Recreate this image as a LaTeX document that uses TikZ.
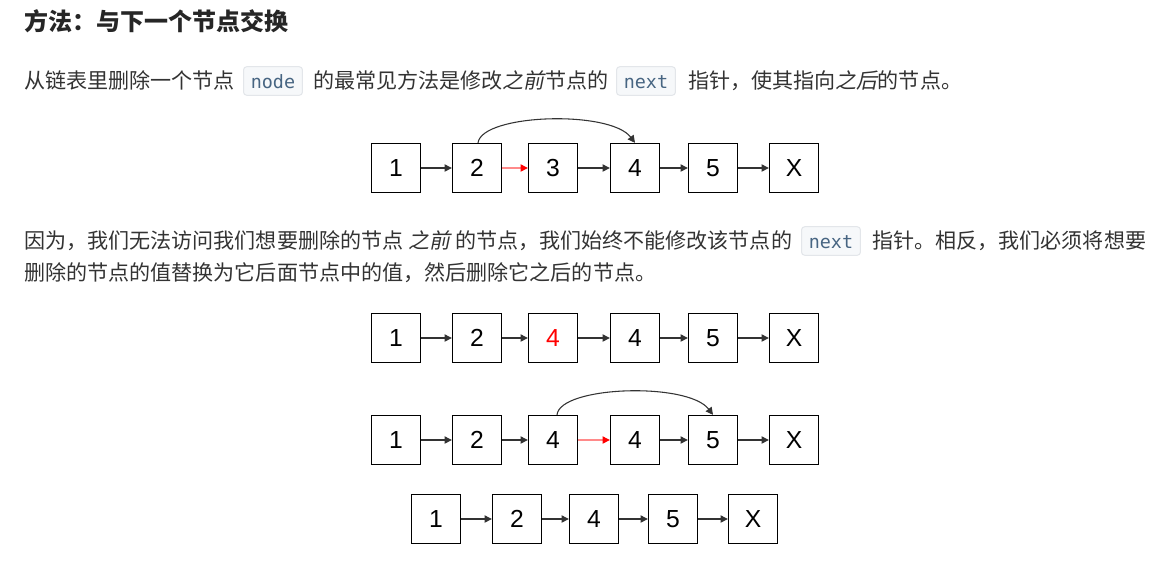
\documentclass[tikz,border=0pt]{standalone}
\usepackage{fontspec}
\setmainfont{Noto Sans CJK SC}
\newfontfamily\cjkfont{Noto Sans CJK SC}
\newfontfamily\cjkitfont[FakeSlant=0.2]{Noto Sans CJK SC}
\newfontfamily\numfont{Liberation Sans}
\newfontfamily\codefont{DejaVu Sans Mono}
\usetikzlibrary{arrows.meta}
\definecolor{txt}{HTML}{333333}
\definecolor{ttl}{HTML}{262626}
\definecolor{codebg}{HTML}{F6F8FA}
\definecolor{codeborder}{HTML}{E3E6EA}
\definecolor{codefg}{HTML}{476582}
\definecolor{linec}{HTML}{333333}
\definecolor{redline}{HTML}{FF8A8A}
\newcommand{\zhit}[1]{{\cjkitfont #1}}
\begin{document}
\begin{tikzpicture}[x=0.75pt,y=-0.75pt,
  titletext/.style={anchor=base west, inner sep=0pt, text=ttl, font=\cjkfont\bfseries\fontsize{18}{18}\selectfont},
  para/.style={anchor=base west, inner sep=0pt, text=txt, font=\cjkfont\fontsize{15.8}{15.8}\selectfont},
  codebox/.style={anchor=base west, fill=codebg, draw=codeborder, line width=0.75pt, rounded corners=2.5pt,
     text=codefg, font=\codefont\fontsize{13.8}{13.8}\selectfont, inner xsep=5.5pt, inner ysep=0pt,
     text height=16pt, text depth=5.5pt},
  lbox/.style={draw=black, line width=1pt, minimum width=36.75pt, minimum height=36.75pt, inner sep=0pt,
     font=\numfont\fontsize{18.5}{18.5}\selectfont, text=black},
  arr/.style={draw=linec, line width=0.8pt, -{Triangle[length=5.5pt,width=5.5pt]}},
  redarr/.style={draw=redline, line width=0.8pt, -{Triangle[length=5.5pt,width=5.5pt,color=red]}},
  curvearr/.style={draw=linec, line width=0.8pt, -{Triangle[length=5.5pt,width=5.5pt]}}
]
\useasboundingbox[fill=white] (0,0) rectangle (1154,569);

% title
\node[titletext] (title) at (24,30) {方法：与下一个节点交换};

% paragraph 1
\node[para] (p1a) at (24,88) {从链表里删除一个节点};
\node[codebox] (c1) at (243,88) {node};
\node[para] (p1b) at (313,88) {的最常见方法是修改\zhit{之前}节点的};
\node[codebox] (c2) at (616,88) {next};
\node[para] (p1c) at (688,88) {指针，使其指向\zhit{之后}的节点。};

% diagram 1
\node[lbox] (n11) at (396,168) {1};
\node[lbox] (n12) at (477,168) {2};
\node[lbox] (n13) at (553,168) {3};
\node[lbox] (n14) at (635,168) {4};
\node[lbox] (n15) at (713,168) {5};
\node[lbox] (n16) at (794,168) {X};
\draw[arr] (n11) -- (n12);
\draw[redarr] (n12) -- (n13);
\draw[arr] (n13) -- (n14);
\draw[arr] (n14) -- (n15);
\draw[arr] (n15) -- (n16);
\draw[curvearr] ([xshift=0.75pt]n12.north) .. controls +(4,-29) and +(-25,-33) .. (n14.north);

% paragraph 2
\node[para] (p2a) at (24,248) {因为，我们无法访问我们想要删除的节点 \zhit{之前} 的节点，我们始终不能修改该节点的};
\node[codebox] (c3) at (801,248) {next};
\node[para] (p2b) at (872,248) {指针。相反，我们必须将想要};
\node[para] (p2c) at (24,280) {删除的节点的值替换为它后面节点中的值，然后删除它之后的节点。};

% diagram 2
\node[lbox] (n21) at (396,338) {1};
\node[lbox] (n22) at (477,338) {2};
\node[lbox, text=red] (n23) at (553,338) {4};
\node[lbox] (n24) at (635,338) {4};
\node[lbox] (n25) at (713,338) {5};
\node[lbox] (n26) at (794,338) {X};
\draw[arr] (n21) -- (n22);
\draw[arr] (n22) -- (n23);
\draw[arr] (n23) -- (n24);
\draw[arr] (n24) -- (n25);
\draw[arr] (n25) -- (n26);

% diagram 3
\node[lbox] (n31) at (396,440) {1};
\node[lbox] (n32) at (477,440) {2};
\node[lbox] (n33) at (553,440) {4};
\node[lbox] (n34) at (635,440) {4};
\node[lbox] (n35) at (713,440) {5};
\node[lbox] (n36) at (794,440) {X};
\draw[arr] (n31) -- (n32);
\draw[arr] (n32) -- (n33);
\draw[redarr] (n33) -- (n34);
\draw[arr] (n34) -- (n35);
\draw[arr] (n35) -- (n36);
\draw[curvearr] ([xshift=3pt]n33.north) .. controls +(3,-29) and +(-25,-33) .. (n35.north);

% diagram 4
\node[lbox] (n41) at (436,519) {1};
\node[lbox] (n42) at (517,519) {2};
\node[lbox] (n43) at (594,519) {4};
\node[lbox] (n44) at (673,519) {5};
\node[lbox] (n45) at (753,519) {X};
\draw[arr] (n41) -- (n42);
\draw[arr] (n42) -- (n43);
\draw[arr] (n43) -- (n44);
\draw[arr] (n44) -- (n45);
\end{tikzpicture}
\end{document}
